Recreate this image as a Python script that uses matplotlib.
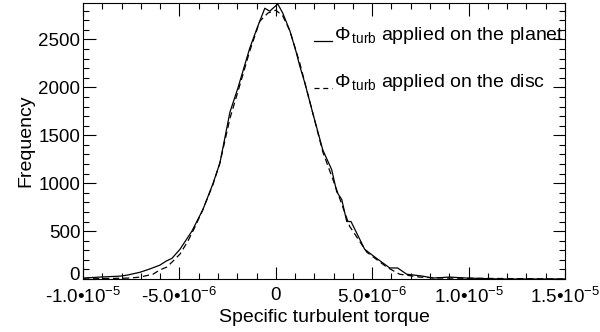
#!/usr/bin/env python3

import numpy as np
import matplotlib
matplotlib.use('Agg')
import matplotlib.pyplot as plt
from matplotlib.ticker import MultipleLocator, FixedLocator
import matplotlib.transforms as mtransforms

plt.rcParams['font.family'] = ['Liberation Sans', 'DejaVu Sans']
plt.rcParams['mathtext.fontset'] = 'custom'
plt.rcParams['mathtext.rm'] = 'Liberation Sans'
plt.rcParams['mathtext.it'] = 'Liberation Sans:italic'
plt.rcParams['mathtext.sf'] = 'Liberation Sans'

# torque in units of 1e-6
planet_x = [-10.0, -9.12, -8.08, -7.72, -7.05, -6.53, -6.01, -5.70, -5.39, -4.97,
            -4.35, -3.78, -3.26, -2.90, -2.38, -1.97, -1.35, -0.93, -0.57, -0.31,
            0.10, 0.36, 0.73, 1.04, 1.24, 1.50, 1.92, 2.44, 2.90, 3.16,
            3.42, 3.68, 3.90, 4.61, 5.13, 5.91, 6.32, 6.79, 7.62, 8.13,
            9.02, 9.90, 11.6, 15.0]
planet_freq = [10, 20, 30, 40, 70, 105, 145, 185, 215, 310,
               500, 725, 995, 1210, 1740, 1990, 2410, 2640, 2825, 2795,
               2870, 2775, 2590, 2380, 2225, 2050, 1730, 1345, 1140, 910,
               830, 600, 600, 310, 230, 115, 115, 50, 30, 10,
               20, 10, 0, 0]

disc_x = [-10.0, -7.56, -7.05, -6.37, -6.01, -5.65, -5.34, -4.97, -4.56, -4.20,
          -3.78, -3.26, -2.90, -2.38, -1.87, -1.35, -0.83, -0.41, 0.0, 0.36,
          0.73, 1.24, 1.92, 2.44, 3.06, 3.83, 4.72, 5.75, 6.42, 7.46,
          8.50, 15.0]
disc_freq = [0, 10, 20, 50, 95, 125, 185, 260, 395, 540,
             725, 985, 1210, 1675, 2020, 2380, 2690, 2775, 2805, 2745,
             2590, 2255, 1730, 1325, 985, 550, 280, 125, 50, 20,
             10, 0]

xtick_vals = [-1.0e-5, -5.0e-6, 0, 5.0e-6, 1.0e-5, 1.5e-5]
xtick_labels = ['-1.0\u202210$^{-5}$', '-5.0\u202210$^{-6}$', '0',
                '5.0\u202210$^{-6}$', '1.0\u202210$^{-5}$', '1.5\u202210$^{-5}$']
ytick_vals = [0, 500, 1000, 1500, 2000, 2500]

fig = plt.figure(figsize=(6.0, 3.32), dpi=100)
ax = fig.add_axes([83/600, 1 - 279/332, (565 - 83)/600, (279 - 3)/332])

ax.plot(np.array(planet_x) * 1e-6, planet_freq, color='black', lw=0.9)
ax.plot(np.array(disc_x) * 1e-6, disc_freq, color='black', lw=0.9,
        ls=(0, (5, 3)))

ax.set_xlim(-1.0e-5, 1.5e-5)
ax.set_ylim(0, 2880)

ax.xaxis.set_major_locator(FixedLocator(xtick_vals))
ax.set_xticklabels(xtick_labels)
ax.xaxis.set_minor_locator(MultipleLocator(1e-6))
ax.yaxis.set_major_locator(FixedLocator(ytick_vals))
ax.yaxis.set_minor_locator(MultipleLocator(100))

ax.tick_params(which='both', direction='in', top=True, right=True,
               labelsize=13.5, width=0.8, color='black')
ax.tick_params(which='major', length=9, pad=6)
ax.tick_params(axis='y', which='major', pad=2)
ax.tick_params(which='minor', length=4.5)
for s in ax.spines.values():
    s.set_linewidth(0.8)

# IDL-style lift of the bottom "0" label
zero_lab = ax.get_yticklabels()[0]
zero_lab.set_transform(zero_lab.get_transform() +
                       mtransforms.ScaledTranslation(0, 6/100, fig.dpi_scale_trans))

ax.set_xlabel('Specific turbulent torque', fontsize=14, labelpad=1)
ax.set_ylabel('Frequency', fontsize=14, labelpad=3)

# legend drawn by hand, like the original
for ypx, style, txt in [(41, '-', 'applied on the planet'),
                        (88, (0, (4, 3)), 'applied on the disc')]:
    yf = 1 - ypx/332
    fig.add_artist(plt.Line2D([314/600, 332/600], [yf, yf], color='black',
                              lw=0.9, ls=style))
    fig.text(334/600, yf + 1/332, r'$\Phi_{\,\rm turb}$' + ' ' + txt,
             fontsize=14, va='baseline', ha='left')

fig.savefig('out.png', dpi=100)
